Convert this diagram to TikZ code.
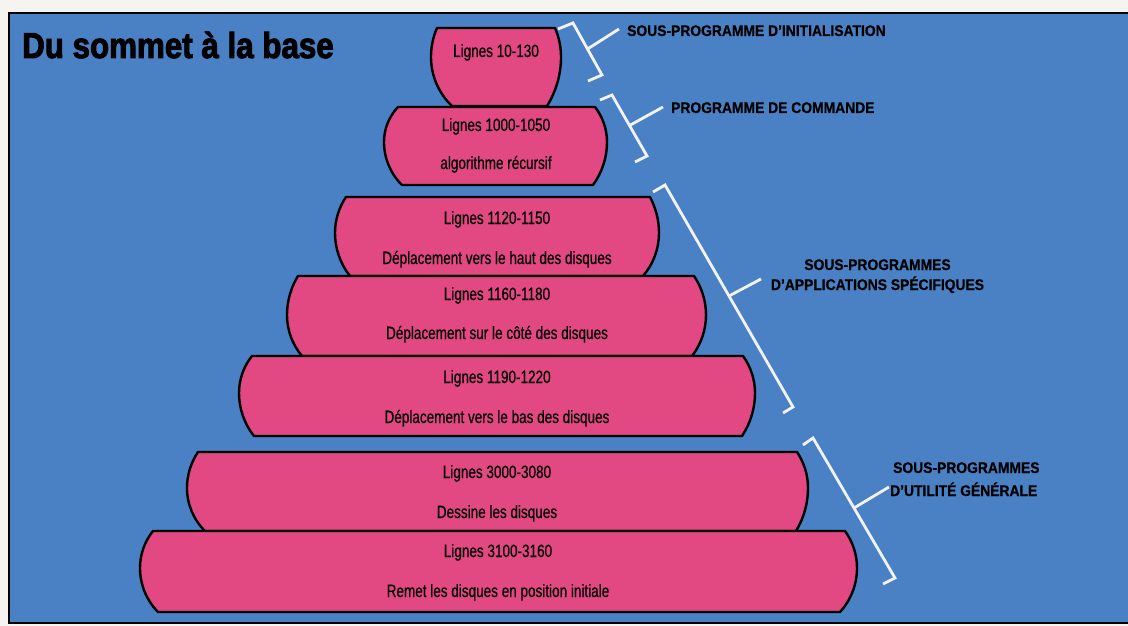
\documentclass[tikz,border=0pt]{standalone}
\usepackage{fontspec}
\setmainfont{Liberation Sans}
\newfontfamily\discfont[FakeStretch=0.76,FakeBold=0.4]{Liberation Sans}
\newfontfamily\labfont[FakeStretch=0.9,FakeBold=0.6]{Liberation Sans}
\newfontfamily\titlefont[FakeStretch=0.87,FakeBold=2.6]{Liberation Sans}
\usetikzlibrary{calc}
\definecolor{bgblue}{RGB}{74,128,196}
\definecolor{discpink}{RGB}{226,72,130}
\definecolor{paper}{RGB}{246,244,240}
\definecolor{brk}{RGB}{242,242,248}
\tikzset{
  discshape/.style={fill=discpink,draw=black,line width=2.4pt,line join=round},
  disctext/.style={anchor=base,inner sep=0pt,font=\discfont\fontsize{17.8}{20}\selectfont,text=black},
  labtext/.style={inner sep=0pt,font=\labfont\bfseries\fontsize{15.4}{18}\selectfont,text=black},
  bracket/.style={draw=brk,line width=2.8pt,line join=miter},
}
% control values for a circular side arc: #1 prefix, #2 dx, #3 dy
\newcommand\arcctl[3]{%
 \pgfmathsetmacro\tmpR{((#2)^2+(#3)^2)/(2*(#2))}%
 \pgfmathsetmacro\tmpT{asin((#3)/\tmpR)}%
 \pgfmathsetmacro\tmpL{4/3*tan(\tmpT/4)*\tmpR}%
 \expandafter\pgfmathsetmacro\csname #1cx\endcsname{\tmpL*sin(\tmpT)}%
 \expandafter\pgfmathsetmacro\csname #1cy\endcsname{\tmpL*cos(\tmpT)}%
 \expandafter\pgfmathsetmacro\csname #1L\endcsname{\tmpL}%
}
% yt yb ym xlt xlm xlb xrt xrm xrb
\newcommand\drawdisc[9]{%
 \arcctl{RT}{#8-#7}{#3-#1}%
 \arcctl{RB}{#8-#9}{#2-#3}%
 \arcctl{LT}{#4-#5}{#3-#1}%
 \arcctl{LB}{#6-#5}{#2-#3}%
 \filldraw[discshape] (#4,#1) -- (#7,#1)
   .. controls +(\RTcx,\RTcy) and +(0,-\RTL) .. (#8,#3)
   .. controls +(0,\RBL) and +(\RBcx,-\RBcy) .. (#9,#2)
   -- (#6,#2)
   .. controls +(-\LBcx,-\LBcy) and +(0,\LBL) .. (#5,#3)
   .. controls +(0,-\LTL) and +(-\LTcx,\LTcy) .. (#4,#1) -- cycle;}
\begin{document}
\begin{tikzpicture}[x=1pt,y=-1pt]
\useasboundingbox (0,0) rectangle (1128,626);
\fill[paper] (0,0) rectangle (1128,626);
\fill[bgblue] (9,13) rectangle (1128,623);
\draw[black,line width=2pt] (1128,13) -- (9,13) -- (9,623) -- (1128,623);

\node[anchor=base west,inner sep=0pt,font=\titlefont\bfseries\fontsize{36}{36}\selectfont] (title) at (22,58) {Du sommet à la base};

% discs
\drawdisc{28}{106}{57}{437}{431}{452}{555}{561}{547}
\drawdisc{107}{185}{142}{398}{384}{402}{595}{607}{593}
\drawdisc{197}{276}{233}{346}{335}{350}{650}{659}{643}
\drawdisc{276}{356}{315}{298}{287}{302}{694}{706}{692}
\drawdisc{356}{436}{393}{252}{239}{254}{743}{755}{742}
\drawdisc{452}{531}{488}{198}{187}{205}{797}{808}{796}
\drawdisc{531}{612}{568}{153}{140}{158}{845}{857}{840}

\node[disctext] (d1a) at (496,57) {Lignes 10-130};
\node[disctext] (d2a) at (496,131) {Lignes 1000-1050};
\node[disctext] (d2b) at (496,169) {algorithme récursif};
\node[disctext] (d3a) at (497,224) {Lignes 1120-1150};
\node[disctext] (d3b) at (497,264) {Déplacement vers le haut des disques};
\node[disctext] (d4a) at (497,300) {Lignes 1160-1180};
\node[disctext] (d4b) at (497,339) {Déplacement sur le côté des disques};
\node[disctext] (d5a) at (497,383) {Lignes 1190-1220};
\node[disctext] (d5b) at (497,423) {Déplacement vers le bas des disques};
\node[disctext] (d6a) at (497,478) {Lignes 3000-3080};
\node[disctext] (d6b) at (497,518) {Dessine les disques};
\node[disctext] (d7a) at (498,557) {Lignes 3100-3160};
\node[disctext] (d7b) at (498,597) {Remet les disques en position initiale};

% labels
\node[labtext,anchor=base west] (lab1) at (627,36) {SOUS-PROGRAMME D’INITIALISATION};
\node[labtext,anchor=base west] (lab2) at (671,113) {PROGRAMME DE COMMANDE};
\node[labtext,anchor=base] (lab3a) at (877.5,270) {SOUS-PROGRAMMES};
\node[labtext,anchor=base] (lab3b) at (877.5,290) {D’APPLICATIONS SPÉCIFIQUES};
\node[labtext,anchor=base west] (lab4a) at (893,473) {SOUS-PROGRAMMES};
\node[labtext,anchor=base west] (lab4b) at (890,496) {D’UTILITÉ GÉNÉRALE};

% brackets
\coordinate (a1) at (558,29); \coordinate (t1) at (573,23); \coordinate (u1) at (602,75); \coordinate (b1) at (588,81); \coordinate (e1) at (619,29);
\coordinate (a2) at (600,100); \coordinate (t2) at (612,95); \coordinate (u2) at (647,156); \coordinate (b2) at (635,162); \coordinate (e2) at (663,107);
\coordinate (a3) at (653,192); \coordinate (t3) at (665,185); \coordinate (u3) at (793,407); \coordinate (b3) at (783,413); \coordinate (e3) at (761,279);
\coordinate (a4) at (803,445); \coordinate (t4) at (813,438); \coordinate (u4) at (895,578); \coordinate (b4) at (883,584); \coordinate (e4) at (889,487);
\foreach \i in {1,2,3,4}{
  \draw[bracket] (a\i) -- (t\i) -- (u\i) -- (b\i);
  \draw[bracket] ($(t\i)!0.5!(u\i)$) -- (e\i);
}
\end{tikzpicture}
\end{document}
